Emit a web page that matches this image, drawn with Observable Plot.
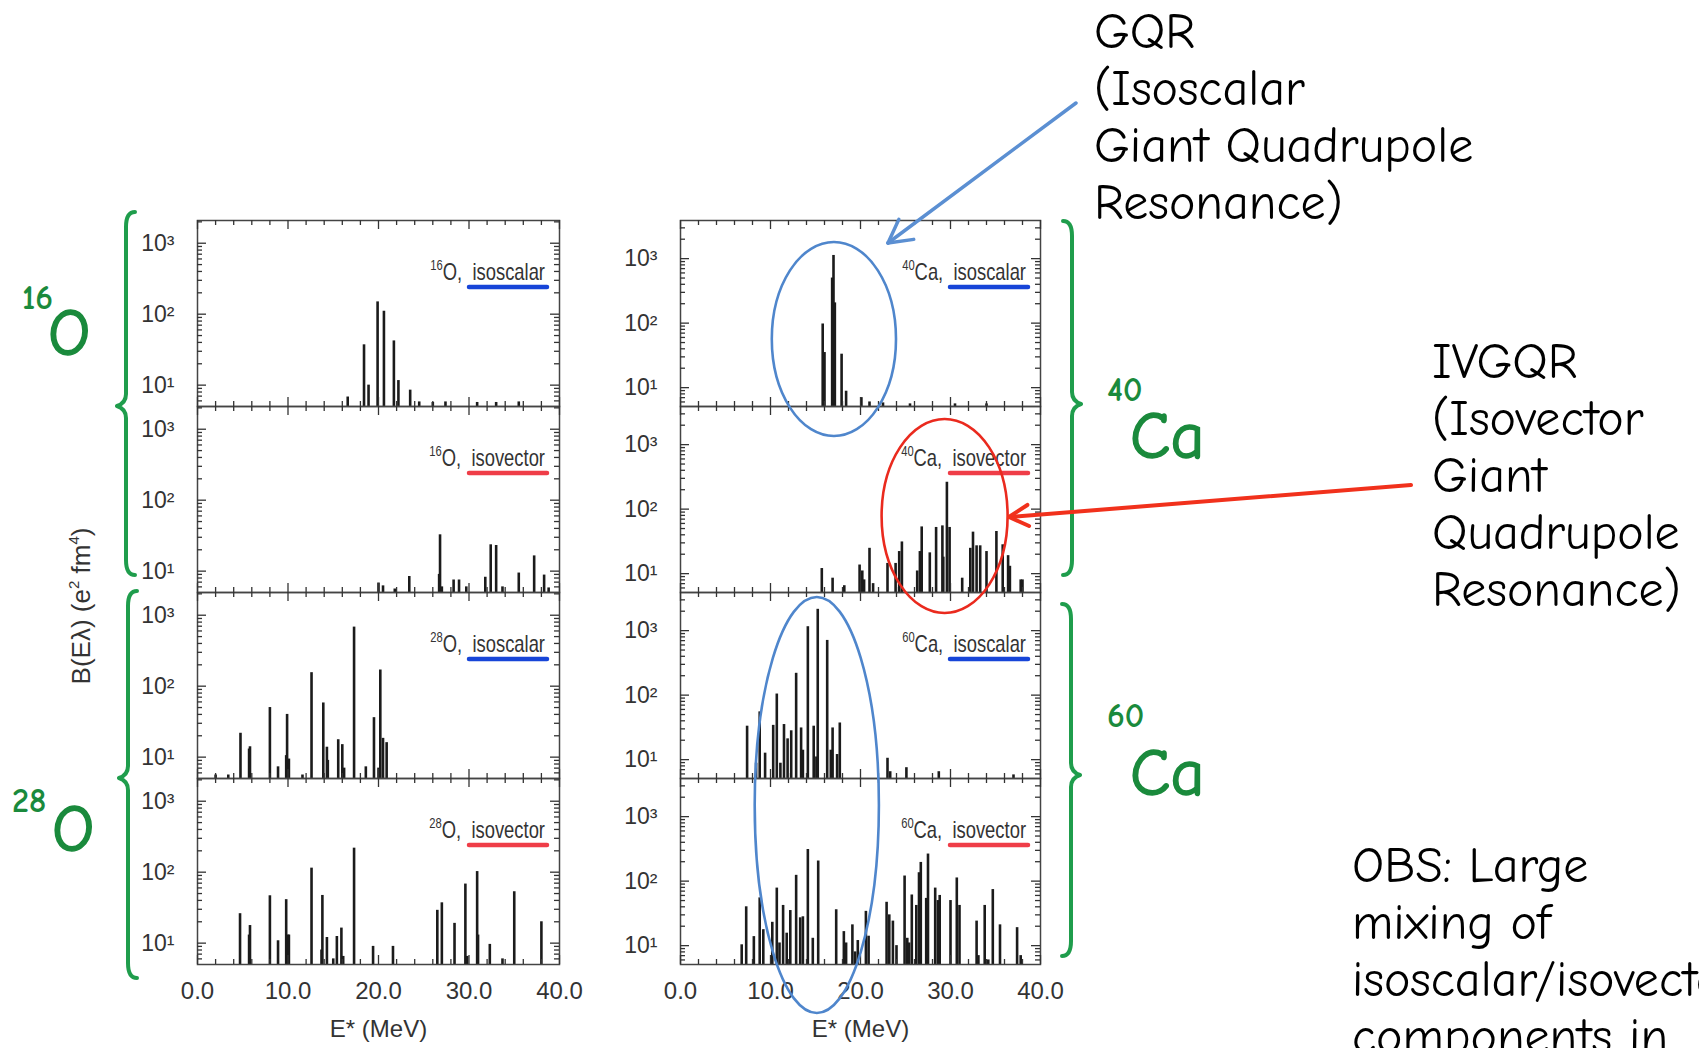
<!DOCTYPE html>
<html><head><meta charset="utf-8">
<script src="https://cdn.jsdelivr.net/npm/d3@7"></script>
<script src="https://cdn.jsdelivr.net/npm/@observablehq/plot@0.6"></script>
<style>
html,body{margin:0;padding:0;background:#fff;overflow:hidden;}
#page{position:relative;width:1699px;height:1048px;overflow:hidden;background:#fff;}
.panel{position:absolute;}
#overlay{position:absolute;left:0;top:0;pointer-events:none;}
</style></head><body><div id="page"></div>
<script>
// ---------- data: [E (MeV), B(Eλ) (e² fm⁴)] ----------
const o16_isoscalar = [[16.6,6.8],[18.4,37],[18.9,10],[19.9,149],[20.6,110],[21.7,42],[22.2,11.6],[23.5,8.5],[24.5,5.8],[26.0,5.7],[27.4,5.8],[30.9,5.7],[33.0,5.7],[35.5,5.8]];
const o16_isovector = [[20.0,6.8],[20.5,6.2],[21.8,5.6],[23.4,8.4],[26.7,9],[26.8,32.5],[27.0,6],[28.3,7.5],[28.9,7.5],[29.7,6],[31.8,8.2],[32.4,23.5],[33.0,23],[33.7,6],[35.5,9.4],[37.2,16.4],[38.3,8.8],[38.8,5.8]];
const o28_isoscalar = [[2.0,5.6],[3.4,5.6],[4.75,21.7],[5.7,13],[5.8,14],[8.0,50],[8.9,7.3],[9.8,10.5],[9.9,40],[10.1,9.4],[11.6,5.6],[12.6,155],[13.9,58],[14.3,13.8],[14.4,9],[15.55,17.6],[16.0,15],[16.2,7],[17.3,680],[18.6,7.3],[19.5,36],[20.0,7],[20.2,169],[20.5,18.4],[20.9,16]];
const o28_isovector = [[4.7,26],[5.7,13],[5.8,17.7],[8.0,46.5],[8.9,10.8],[9.8,41],[10.0,13],[10.1,13],[12.6,114],[13.7,8],[13.8,47],[14.3,12],[15.0,6],[15.4,12.4],[15.9,16.3],[16.1,6.5],[17.3,218],[19.4,9],[21.6,9],[26.5,29],[27.0,37],[28.4,19],[29.6,68],[29.8,6.5],[30.9,102],[31.0,13],[32.3,9.6],[33.7,6],[35.0,53],[38.0,20]];
const ca40_isoscalar = [[15.8,97],[16.0,35],[16.85,500],[17.0,1120],[17.15,206],[17.9,33],[18.4,8.8],[20.1,7],[21.0,6],[22.5,5.8],[25.5,5.6],[30.5,5.6],[34.0,5.6]];
const ca40_isovector = [[15.7,12],[16.9,8.5],[18.2,6.5],[19.9,13.6],[20.2,11],[20.4,8],[21.0,24.7],[21.4,7],[23.0,14.4],[23.9,14.4],[24.3,22],[24.6,31],[26.3,11],[26.6,22],[26.8,53],[27.7,21],[28.4,52],[29.1,55],[29.2,18],[29.6,261],[29.9,52],[31.3,8.5],[32.2,24.7],[32.5,44],[32.9,27],[33.3,27],[34.0,22],[35.1,45],[35.8,28],[36.4,19],[36.6,13],[37.8,8],[38.0,8]];
const ca60_isoscalar = [[7.4,33],[8.4,8.8],[8.8,55],[9.4,12.6],[10.3,34],[10.7,104],[11.1,8.8],[11.5,35],[11.9,21],[12.3,28],[12.85,218],[13.4,31],[13.6,14],[14.15,1150],[14.8,33],[15.1,11],[15.25,2140],[16.3,705],[16.7,14],[16.9,31],[17.4,12],[17.7,37],[23.0,10.5],[23.3,6.5],[25.1,7.5],[28.7,6.5],[37.0,5.8]];
const ca60_isovector = [[6.8,10.3],[7.3,40],[8.15,13.8],[8.8,55],[9.2,17.7],[10.2,23],[10.7,78],[11.0,11],[11.4,42],[11.8,15.6],[12.2,35],[12.85,123],[13.3,27],[13.6,28],[14.15,309],[14.7,13],[15.3,205],[17.3,36],[18.15,16.5],[18.4,11],[19.1,21],[19.4,8],[19.7,12],[20.6,34],[20.9,14],[22.9,47],[23.2,30],[23.6,24],[24.0,10],[24.9,120],[25.2,13],[25.4,11],[25.7,61],[26.2,42],[26.5,135],[26.7,195],[27.3,54],[27.5,263],[28.3,78],[28.6,50],[28.8,60],[30.0,50],[30.7,112],[31.0,42],[32.9,24],[33.1,7],[33.8,42],[34.2,6],[34.7,74],[35.5,21],[37.4,19],[37.8,7]];

// ---------- ticks ----------
const xTicks = [0, 10, 20, 30, 40];
const xMinorTicks = [2,4,6,8,12,14,16,18,22,24,26,28,32,34,36,38];
const yTicks = [10, 100, 1000];
const yTickLabels = ["10¹", "10²", "10³"];
const yMinorTicks = [6,7,8,9,20,30,40,50,60,70,80,90,200,300,400,500,600,700,800,900,2000,3000];

// ---------- layout ----------
const cols = [
  {left: 197, width: 362, yDomain: [5.0, 2090]},
  {left: 680, width: 360, yDomain: [5.1, 3900]}
];
const rowTops = [220, 406, 592, 778];
const frameH = 186;
const BLUE = "#1745d8", RED = "#ef3d48";
const INK = "#333";
const axisFont = "'Liberation Sans',Arial,Helvetica,sans-serif";

const panelDefs = [
  {col:0,row:0,mass:"16",el:"O", mode:"isoscalar",data:o16_isoscalar},
  {col:0,row:1,mass:"16",el:"O", mode:"isovector",data:o16_isovector},
  {col:0,row:2,mass:"28",el:"O", mode:"isoscalar",data:o28_isoscalar},
  {col:0,row:3,mass:"28",el:"O", mode:"isovector",data:o28_isovector},
  {col:1,row:0,mass:"40",el:"Ca",mode:"isoscalar",data:ca40_isoscalar},
  {col:1,row:1,mass:"40",el:"Ca",mode:"isovector",data:ca40_isovector},
  {col:1,row:2,mass:"60",el:"Ca",mode:"isoscalar",data:ca60_isoscalar},
  {col:1,row:3,mass:"60",el:"Ca",mode:"isovector",data:ca60_isovector}
];

const page = d3.select("#page");

function panelLabel(p) {
  return (index, scales, values, dims) => {
    const g = d3.create("svg:g");
    const xr = dims.width - dims.marginRight;
    const yt = dims.marginTop;
    const t = g.append("text")
      .attr("transform", `translate(${xr - 14},${yt + 60}) scale(0.8,1)`)
      .attr("text-anchor", "end").attr("font-family", axisFont)
      .attr("font-size", 23).attr("fill", INK);
    t.append("tspan").attr("font-size", 14).attr("dy", -10).text(p.mass);
    t.append("tspan").attr("dy", 10).text(p.el + ",  " + p.mode);
    g.append("line").attr("x1", xr - 90).attr("x2", xr - 12)
      .attr("y1", yt + 67).attr("y2", yt + 67)
      .attr("stroke", p.mode === "isoscalar" ? BLUE : RED)
      .attr("stroke-width", 4.5).attr("stroke-linecap", "round");
    return g.node();
  };
}

const panels = [];
for (const p of panelDefs) {
  const c = cols[p.col];
  const last = p.row === 3;
  const mL = 80, mR = 10, mT = 10, mB = last ? 90 : 10;
  const yd = c.yDomain;
  const data = p.data.map(([E, B]) => ({E, B}));
  const yMin = yMinorTicks.filter(v => v > yd[0] && v < yd[1]);
  const tk = {stroke: INK, strokeWidth: 1.3};
  const plot = Plot.plot({
    width: mL + c.width + mR, height: mT + frameH + mB,
    marginLeft: mL, marginRight: mR, marginTop: mT, marginBottom: mB,
    style: {background: "transparent", overflow: "visible", fontFamily: axisFont, fontSize: "23px", color: INK},
    x: {domain: [0, 40], axis: null},
    y: {type: "log", domain: yd, axis: null},
    marks: [
      Plot.ruleX(data, {x: "E", y1: yd[0], y2: "B", stroke: "#1b1b1b", strokeWidth: 2.6}),
      Plot.frame({stroke: "#444", strokeWidth: 1.5}),
      Plot.tickX(xTicks, {x: d => d, insetTop: frameH - 9, ...tk}),
      Plot.tickX(xTicks, {x: d => d, insetBottom: frameH - 9, ...tk}),
      Plot.tickX(xMinorTicks, {x: d => d, insetTop: frameH - 5, ...tk}),
      Plot.tickX(xMinorTicks, {x: d => d, insetBottom: frameH - 5, ...tk}),
      Plot.tickY(yTicks, {y: d => d, insetRight: c.width - 9, ...tk}),
      Plot.tickY(yTicks, {y: d => d, insetLeft: c.width - 9, ...tk}),
      Plot.tickY(yMin, {y: d => d, insetRight: c.width - 5, ...tk}),
      Plot.tickY(yMin, {y: d => d, insetLeft: c.width - 5, ...tk}),
      Plot.axisY(yTicks, {tickSize: 0, tickPadding: 23, label: null, fontSize: 23,
        tickFormat: d => yTickLabels[yTicks.indexOf(d)]}),
      last ? Plot.axisX(xTicks, {tickSize: 0, tickPadding: 17, label: null, fontSize: 24,
        tickFormat: d => d.toFixed(1)}) : null,
      last ? Plot.text(["E* (MeV)"], {text: d => d, frameAnchor: "bottom", dy: 72, fontSize: 24, fill: INK}) : null,
      panelLabel(p)
    ]
  });
  const left = c.left - mL, top = rowTops[p.row] - mT;
  page.append("div").attr("class", "panel").style("left", left + "px").style("top", top + "px")
    .node().appendChild(plot);
  panels.push({...p, plot, left, top});
}

// ---------- annotation overlay ----------
const ov = page.append("svg").attr("id", "overlay").attr("width", 1699).attr("height", 1048);
function xPage(col, row, E) {
  const pn = panels.find(q => q.col === col && q.row === row);
  return pn.left + pn.plot.scale("x").apply(E);
}

// y axis title
const yt = ov.append("text").attr("transform", "translate(90,606) rotate(-90)")
  .attr("text-anchor", "middle").attr("font-family", axisFont).attr("font-size", 26).attr("fill", INK);
yt.append("tspan").text("B(Eλ) (e");
yt.append("tspan").attr("font-size", 15).attr("dy", -11).text("2");
yt.append("tspan").attr("dy", 11).text(" fm");
yt.append("tspan").attr("font-size", 15).attr("dy", -11).text("4");
yt.append("tspan").attr("dy", 11).text(")");

// green braces
const GREEN = "#1f9d4c", GREEN_D = "#1a8a3c";
function brace(x, y0, y1, ym, dir, w) {
  const h = -dir * w;
  const p = d3.path();
  p.moveTo(x + h, y0 - 3);
  p.quadraticCurveTo(x, y0 - 3, x, y0 + 12);
  p.lineTo(x, ym - 12);
  p.quadraticCurveTo(x, ym - 3, x + dir * w, ym);
  p.quadraticCurveTo(x, ym + 3, x, ym + 12);
  p.lineTo(x, y1 - 12);
  p.quadraticCurveTo(x, y1 + 3, x + h, y1 + 3);
  return p.toString();
}
const braces = [
  [126, 215, 572, rowTops[1], -1], [128, 594, 975, rowTops[3], -1],
  [1072, 224, 572, rowTops[1] - 2, 1], [1071, 607, 953, rowTops[3] - 3, 1]
];
for (const [x, y0, y1, ym, dir] of braces) {
  ov.append("path").attr("d", brace(x, y0, y1, ym, dir, 9)).attr("fill", "none")
    .attr("stroke", GREEN).attr("stroke-width", 4).attr("stroke-linecap", "round").attr("stroke-linejoin", "round");
}
const handFont = "'Comic Sans MS','Comic Neue',Lato,sans-serif";
const nuclei = [
  {mass: "16", el: "O", x: 48, y: 355, mx: 22, my: 309},
  {mass: "28", el: "O", x: 52, y: 851, mx: 12, my: 812},
  {mass: "40", el: "Ca", x: 1130, y: 458, mx: 1107, my: 401},
  {mass: "60", el: "Ca", x: 1130, y: 795, mx: 1107, my: 727}
];
for (const n of nuclei) {
  ov.append("text").attr("x", n.mx).attr("y", n.my).attr("font-family", handFont)
    .attr("font-weight", 700).attr("font-size", 34).attr("fill", GREEN_D).text(n.mass);
  ov.append("text").attr("x", n.x).attr("y", n.y)
    .attr("font-family", handFont).attr("font-size", 66).attr("fill", GREEN_D)
    .attr("stroke", GREEN_D).attr("stroke-width", 1.5).text(n.el);
}

// ellipses (centres in MeV via the panel x scales)
const ellipses = [
  {col: 1, row: 0, E: 17.1, dE: 6.9, cy: 339, ry: 97, color: "#4f86cc"},
  {col: 1, row: 1, E: 29.4, dE: 7.0, cy: 516, ry: 97, color: "#ea2a1e"},
  {col: 1, row: 2, E: 15.2, dE: 6.9, cy: 805, ry: 208, color: "#4f86cc"}
];
for (const e of ellipses) {
  const cx = xPage(e.col, e.row, e.E);
  const rx = xPage(e.col, e.row, e.E + e.dE) - cx;
  ov.append("ellipse").attr("cx", cx).attr("cy", e.cy).attr("rx", rx).attr("ry", e.ry)
    .attr("fill", "none").attr("stroke", e.color).attr("stroke-width", 2.6);
}

// arrows
function arrow(x1, y1, x2, y2, color, w, head) {
  const g = ov.append("g").attr("stroke", color).attr("stroke-width", w).attr("stroke-linecap", "round");
  g.append("line").attr("x1", x1).attr("y1", y1).attr("x2", x2).attr("y2", y2);
  const a = Math.atan2(y1 - y2, x1 - x2);
  for (const s of [-1, 1]) {
    const b = a + s * 0.5;
    g.append("line").attr("x1", x2).attr("y1", y2)
      .attr("x2", x2 + head * Math.cos(b)).attr("y2", y2 + head * Math.sin(b));
  }
}
arrow(1076, 103, 888, 243, "#5b8fd2", 3.5, 26);
arrow(1411, 485, 1009, 517, "#f1311c", 4, 22);

// text annotations
function block(x, y0, lines) {
  lines.forEach((s, i) => {
    ov.append("text").attr("x", x).attr("y", y0 + i * 57).attr("font-family", handFont)
      .attr("font-size", 50).attr("fill", "#000").text(s);
  });
}
block(1094, 48, ["GQR", "(Isoscalar", "Giant Quadrupole", "Resonance)"]);
block(1432, 378, ["IVGQR", "(Isovector", "Giant", "Quadrupole", "Resonance)"]);
block(1352, 882, ["OBS: Large", "mixing of", "isoscalar/isovector", "components in"]);
</script></body></html>
